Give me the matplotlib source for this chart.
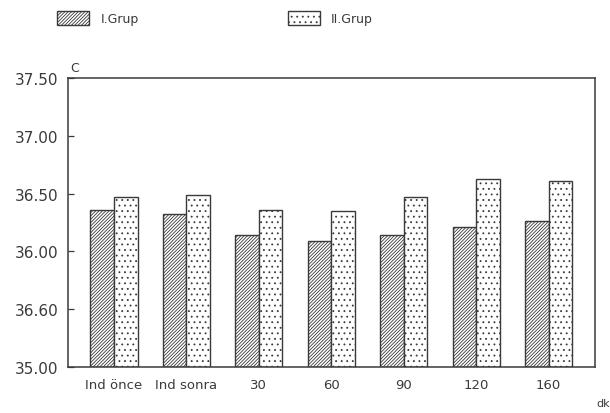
import numpy as np
import matplotlib
matplotlib.use('Agg')
from matplotlib import pyplot as plt
from matplotlib.patches import Patch

# data
kategoriler = ['Ind önce', 'Ind sonra', '30', '60', '90', '120', '160']
grup1 = [36.36, 36.32, 36.14, 36.09, 36.14, 36.21, 36.26]
grup2 = [36.47, 36.49, 36.36, 36.35, 36.47, 36.63, 36.61]
ytick_deger = [35.0, 35.5, 36.0, 36.5, 37.0, 37.5]
ytick_etiket = ['35.00', '36.60', '36.00', '36.50', '37.00', '37.50']

plt.rcParams['hatch.linewidth'] = 0.6
plt.rcParams['hatch.color'] = '#333333'
plt.rcParams['font.family'] = ['DejaVu Sans']

renk = '#3a3a3a'
tarama1 = '//////////'
tarama2 = '...'
fig = plt.figure(figsize=(6.1, 4.14), dpi=100)
ax = fig.add_axes([68/610, 46/414, 527/610, 289/414])

x = np.arange(len(kategoriler))
w = 0.325
ax.bar(x - w/2, np.array(grup1) - 35, w, bottom=35, color='white',
       edgecolor=renk, linewidth=1.0, hatch=tarama1)
ax.bar(x + w/2, np.array(grup2) - 35, w, bottom=35, color='white',
       edgecolor=renk, linewidth=1.0, hatch=tarama2)

ax.set_xlim(-0.635, 6.64)
ax.set_ylim(35, 37.5)
ax.set_yticks(ytick_deger)
ax.set_yticklabels(ytick_etiket)
ax.set_xticks(x)
ax.set_xticklabels(kategoriler)
ax.tick_params(axis='y', direction='in', length=4, width=0.9, color=renk,
               labelsize=11, labelcolor=renk, pad=7)
ax.tick_params(axis='x', length=0, labelsize=9.5, labelcolor=renk, pad=8)
for s in ax.spines.values():
    s.set_color(renk)
    s.set_linewidth(1.1)

fig.text(70/610, 1 - 68/414, 'C', fontsize=9, color=renk, ha='left', va='center')
fig.text(603/610, 1 - 404/414, 'dk', fontsize=8, color=renk, ha='center', va='center')

h1 = Patch(facecolor='white', edgecolor=renk, hatch=tarama1, linewidth=1.0)
h2 = Patch(facecolor='white', edgecolor=renk, hatch=tarama2, linewidth=1.0)
fig.legend([h1, h2], ['I.Grup', 'II.Grup'], loc='center left',
           bbox_to_anchor=(48/610, 1 - 19/414), ncol=2, frameon=False,
           fontsize=9, handlelength=2.6, handleheight=1.3, handletextpad=0.9,
           columnspacing=11.9, labelcolor=renk, borderpad=0.2)

fig.savefig('out.png', dpi=100, facecolor='white')
